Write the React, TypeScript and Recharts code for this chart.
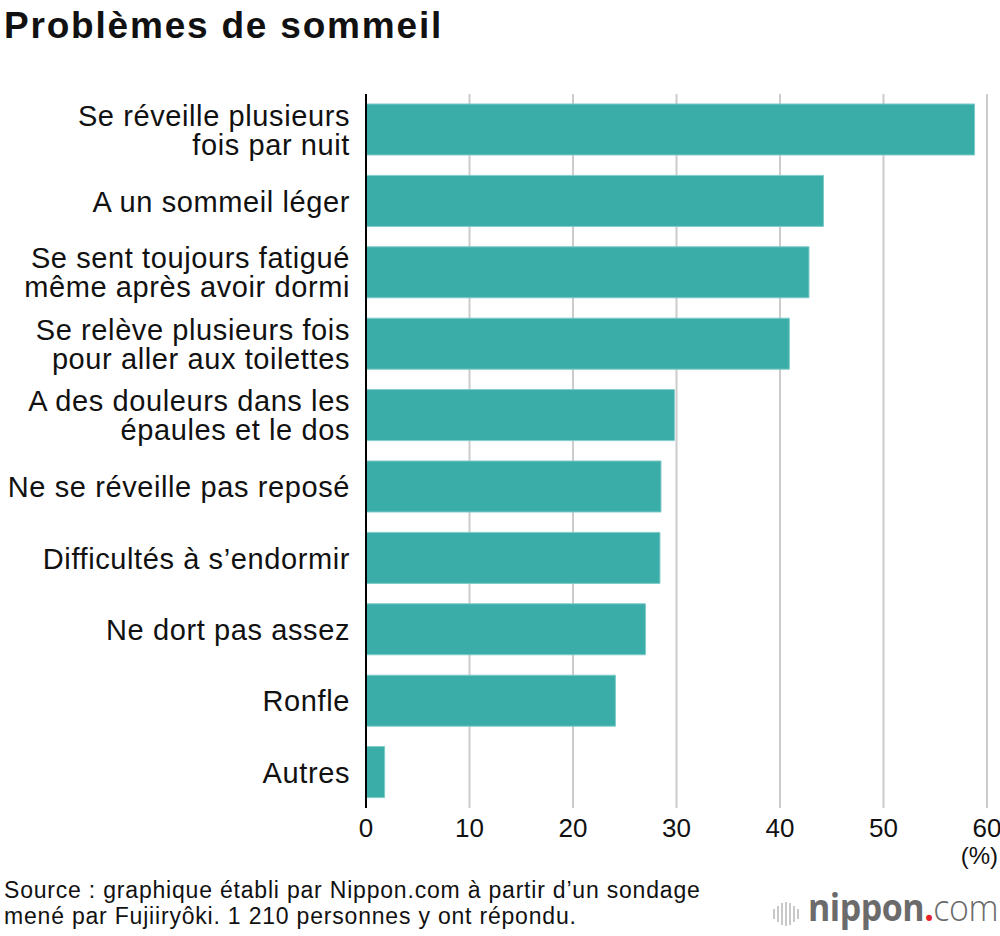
import React from "react";
import { BarChart, Bar, XAxis, YAxis, CartesianGrid } from "recharts";

const categories = [
  "Se réveille plusieurs\nfois par nuit",
  "A un sommeil léger",
  "Se sent toujours fatigué\nmême après avoir dormi",
  "Se relève plusieurs fois\npour aller aux toilettes",
  "A des douleurs dans les\népaules et le dos",
  "Ne se réveille pas reposé",
  "Difficultés à s’endormir",
  "Ne dort pas assez",
  "Ronfle",
  "Autres",
];
const values = [58.8, 44.2, 42.8, 40.9, 29.8, 28.5, 28.4, 27.0, 24.1, 1.8];
const xTicks = [0, 10, 20, 30, 40, 50, 60];

const data = categories.map((c, i) => ({ name: c, value: values[i] }));

const FONT = "'Liberation Sans', Arial, Helvetica, sans-serif";

const CatTick = (props: any) => {
  const { x, y, payload } = props;
  const lines = String(payload.value).split("\n");
  const lh = 29;
  const start = -((lines.length - 1) * lh) / 2;
  return (
    <g transform={`translate(${x},${y})`}>
      {lines.map((l: string, i: number) => (
        <text
          key={i}
          x={-8}
          y={start + i * lh}
          dy="0.36em"
          textAnchor="end"
          fill="#111"
          fontSize={29}
          letterSpacing={0.6}
          fontFamily={FONT}
        >
          {l}
        </text>
      ))}
    </g>
  );
};

const NumTick = (props: any) => {
  const { x, y, payload } = props;
  return (
    <text
      x={x}
      y={y + 12}
      textAnchor="middle"
      fill="#111"
      fontSize={26}
      fontFamily={FONT}
      dy="0.36em"
    >
      {payload.value}
    </text>
  );
};

export default function App() {
  return (
    <div
      style={{
        position: "absolute",
        left: 0,
        top: 0,
        width: 1000,
        height: 936,
        background: "#fff",
        fontFamily: FONT,
        overflow: "hidden",
      }}
    >
      <div
        style={{
          position: "absolute",
          left: 4,
          top: 4,
          fontSize: 37,
          lineHeight: "44px",
          fontWeight: "bold",
          color: "#111",
          letterSpacing: 1.8,
          whiteSpace: "nowrap",
        }}
      >
        Problèmes de sommeil
      </div>
      <div style={{ position: "absolute", left: 0, top: 0 }}>
        <BarChart
          width={1000}
          height={936}
          data={data}
          layout="vertical"
          margin={{ top: 94, right: 13, bottom: 98, left: 0 }}
          barCategoryGap="14%"
        >
          <CartesianGrid
            horizontal={false}
            vertical={true}
            stroke="#cccccc"
            strokeWidth={2}
          />
          <XAxis
            type="number"
            domain={[0, 60]}
            ticks={xTicks}
            axisLine={false}
            tickLine={false}
            tick={<NumTick />}
            height={30}
            interval={0}
          />
          <YAxis
            type="category"
            dataKey="name"
            width={366}
            axisLine={{ stroke: "#000", strokeWidth: 2 }}
            tickLine={false}
            tick={<CatTick />}
            interval={0}
          />
          <Bar
            dataKey="value"
            fill="#3aada9"
            stroke="#7fcbc8"
            strokeWidth={1}
            isAnimationActive={false}
          />
        </BarChart>
      </div>
      <div
        style={{
          position: "absolute",
          right: 2,
          top: 842,
          fontSize: 24,
          lineHeight: "28px",
          color: "#111",
        }}
      >
        (%)
      </div>
      <div
        style={{
          position: "absolute",
          left: 4,
          top: 877,
          fontSize: 23,
          lineHeight: "26px",
          letterSpacing: 0.8,
          color: "#111",
          whiteSpace: "nowrap",
        }}
      >
        Source : graphique établi par Nippon.com à partir d’un sondage
        <br />
        mené par Fujiiryôki. 1 210 personnes y ont répondu.
      </div>
      <div
        style={{
          position: "absolute",
          left: 773,
          top: 902,
          display: "flex",
          alignItems: "center",
          gap: 2,
          height: 24,
        }}
      >
        {[10, 16, 22, 24, 22, 16, 10].map((h, i) => (
          <div
            key={i}
            style={{ width: 2, height: h, background: "#c8c8c8" }}
          />
        ))}
      </div>
      <div
        style={{
          position: "absolute",
          left: 808,
          top: 889,
          fontSize: 34,
          lineHeight: "40px",
          letterSpacing: -0.5,
          color: "#6b6b6b",
          fontFamily: "'Open Sans', 'Noto Sans', sans-serif",
          whiteSpace: "nowrap",
          transform: "scaleY(1.1)",
          transformOrigin: "left bottom",
        }}
      >
        <span style={{ fontWeight: 700 }}>nippon</span>
        <span style={{ color: "#e8202a", fontWeight: 700 }}>.</span>
        <span style={{ fontWeight: 300 }}>com</span>
      </div>
    </div>
  );
}
